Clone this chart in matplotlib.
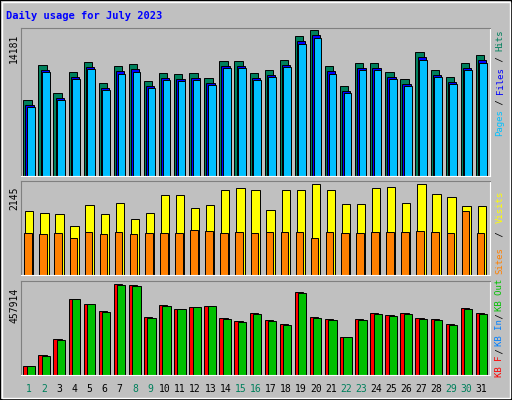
import matplotlib
matplotlib.use("Agg")
import matplotlib.pyplot as plt
from matplotlib.patches import Rectangle

days = list(range(1, 32))
weekend_days = [1, 2, 8, 9, 15, 16, 22, 23, 29, 30]

hits = [7382, 10782, 8062, 10102, 11073, 9033, 10684, 10879, 9227, 10004, 9907, 10004, 9519, 11170, 11170,
        10004, 10296, 11267, 13598, 14181, 10684, 8742, 10976, 10976, 10102, 9422, 12044, 10296, 9616, 10976, 11753]
files = [6880, 10280, 7560, 9600, 10570, 8530, 10180, 10380, 8730, 9500, 9400, 9500, 9020, 10670, 10670,
         9500, 9800, 10770, 13100, 13680, 10180, 8240, 10480, 10480, 9600, 8920, 11540, 9800, 9120, 10480, 11250]
pages = [6700, 10100, 7400, 9400, 10350, 8350, 9950, 10150, 8550, 9300, 9200, 9300, 8850, 10450, 10450,
         9300, 9600, 10550, 12850, 13400, 9950, 8050, 10250, 10250, 9400, 8750, 11300, 9600, 8950, 10250, 11000]

visits = [1508, 1461, 1438, 1155, 1650, 1438, 1697, 1320, 1461, 1886, 1886, 1579, 1650, 2003, 2051,
          2003, 1532, 2003, 2003, 2145, 2003, 1673, 1673, 2051, 2074, 1697, 2145, 1909, 1838, 1626, 1626]
sites = [990, 966, 990, 872, 1014, 966, 1014, 966, 990, 990, 990, 1061, 1037, 990, 1014,
         990, 1014, 1014, 1014, 872, 1014, 990, 990, 1014, 1014, 1014, 1037, 1014, 990, 1508, 990]

kb_f = [45290, 100640, 181150, 382430, 357270, 322050, 457910, 452880, 291860, 352240, 332110, 342180, 347210,
        286820, 271730, 311980, 276760, 256630, 417660, 291860, 281790, 191220, 281790, 311980, 301920, 311980,
        286820, 281790, 256630, 337140, 311980]
kb_in = [44000, 98000, 178000, 380000, 355000, 318000, 452000, 448000, 289000, 349000, 330000, 340000, 345000,
         284000, 269000, 309000, 274000, 254000, 414000, 289000, 279000, 189000, 279000, 309000, 299000, 309000,
         284000, 279000, 254000, 334000, 309000]

BG = "#C0C0C0"
W, H = 512, 400
fig = plt.figure(figsize=(W / 100, H / 100), dpi=100, facecolor=BG)
mono = "DejaVu Sans Mono"


def fx(px):
    return px / W


def fy(py):
    return 1 - py / H


# outer bevel
fig.patches.append(Rectangle((0, 0), 1, 1, transform=fig.transFigure, fill=False, ec="black", lw=1.5))
fig.patches.append(Rectangle((fx(2), fy(398)), fx(508), 396 / H, transform=fig.transFigure,
                             fill=False, ec="white", lw=1))


def panel(top, bottom):
    ax = fig.add_axes([fx(21), fy(bottom), fx(469), (bottom - top) / H])
    ax.set_facecolor(BG)
    for s in ("left", "top"):
        ax.spines[s].set_color("#808080")
    for s in ("right", "bottom"):
        ax.spines[s].set_color("white")
    ax.set_xticks([])
    ax.set_yticks([])
    ax.set_xlim(0.45, 31.55)
    return ax


def bars(ax, vals, dx, w, color):
    ax.bar([d + dx for d in days], vals, width=w, color=color, edgecolor="black", lw=0.7)


ax1 = panel(28, 176)
ax1.set_ylim(0, 14181 * 148 / 146)
bars(ax1, hits, -0.12, 0.55, "#00805C")
bars(ax1, files, 0.02, 0.55, "#0000FF")
bars(ax1, pages, 0.1, 0.5, "#00C0FF")

ax2 = panel(181, 275)
ax2.set_ylim(0, 2145 * 94 / 91)
bars(ax2, visits, 0.0, 0.55, "#FFFF00")
bars(ax2, sites, -0.08, 0.5, "#FF8000")

ax3 = panel(281, 375)
ax3.set_ylim(0, 457914 * 94 / 91)
bars(ax3, kb_f, -0.12, 0.55, "#FF0000")
bars(ax3, kb_in, 0.1, 0.55, "#00C000")

# title and scale labels
fig.text(fx(6), fy(16), "Daily usage for July 2023", color="#0000FF", fontsize=7.5,
         fontweight="bold", family=mono, va="center")
for ypx, lab in [(48, "14181"), (198, "2145"), (305, "457914")]:
    fig.text(fx(14), fy(ypx), lab, rotation=90, fontsize=7, family=mono, va="center", ha="center")


def vlabel(y_start, y_end, parts):
    n = sum(len(t) for t, _ in parts)
    step = (y_start - y_end) / n
    y = y_start
    for txt, col in parts:
        fig.text(fx(500), fy(y), txt, rotation=90, color=col, fontsize=6.5, family=mono,
                 ha="center", va="bottom")
        y -= step * len(txt)


vlabel(136, 30, [("Pages", "#00C0FF"), (" / ", "#000000"), ("Files", "#0000FF"),
                 (" / ", "#000000"), ("Hits", "#00805C")])
vlabel(274, 184, [("Sites", "#FF8000"), (" / ", "#000000"), ("Visits", "#FFFF00")])
vlabel(377, 284, [("KB F", "#FF0000"), (" / ", "#000000"), ("KB In", "#0080FF"),
                  (" / ", "#000000"), ("KB Out", "#00C000")])

for d in days:
    xpx = 21 + (d - 0.45) / 31.1 * 469
    col = "#00805C" if d in weekend_days else "black"
    fig.text(fx(xpx), fy(389), str(d), color=col, fontsize=7, family=mono, ha="center", va="center")

fig.savefig("out.png", dpi=100, facecolor=BG)
